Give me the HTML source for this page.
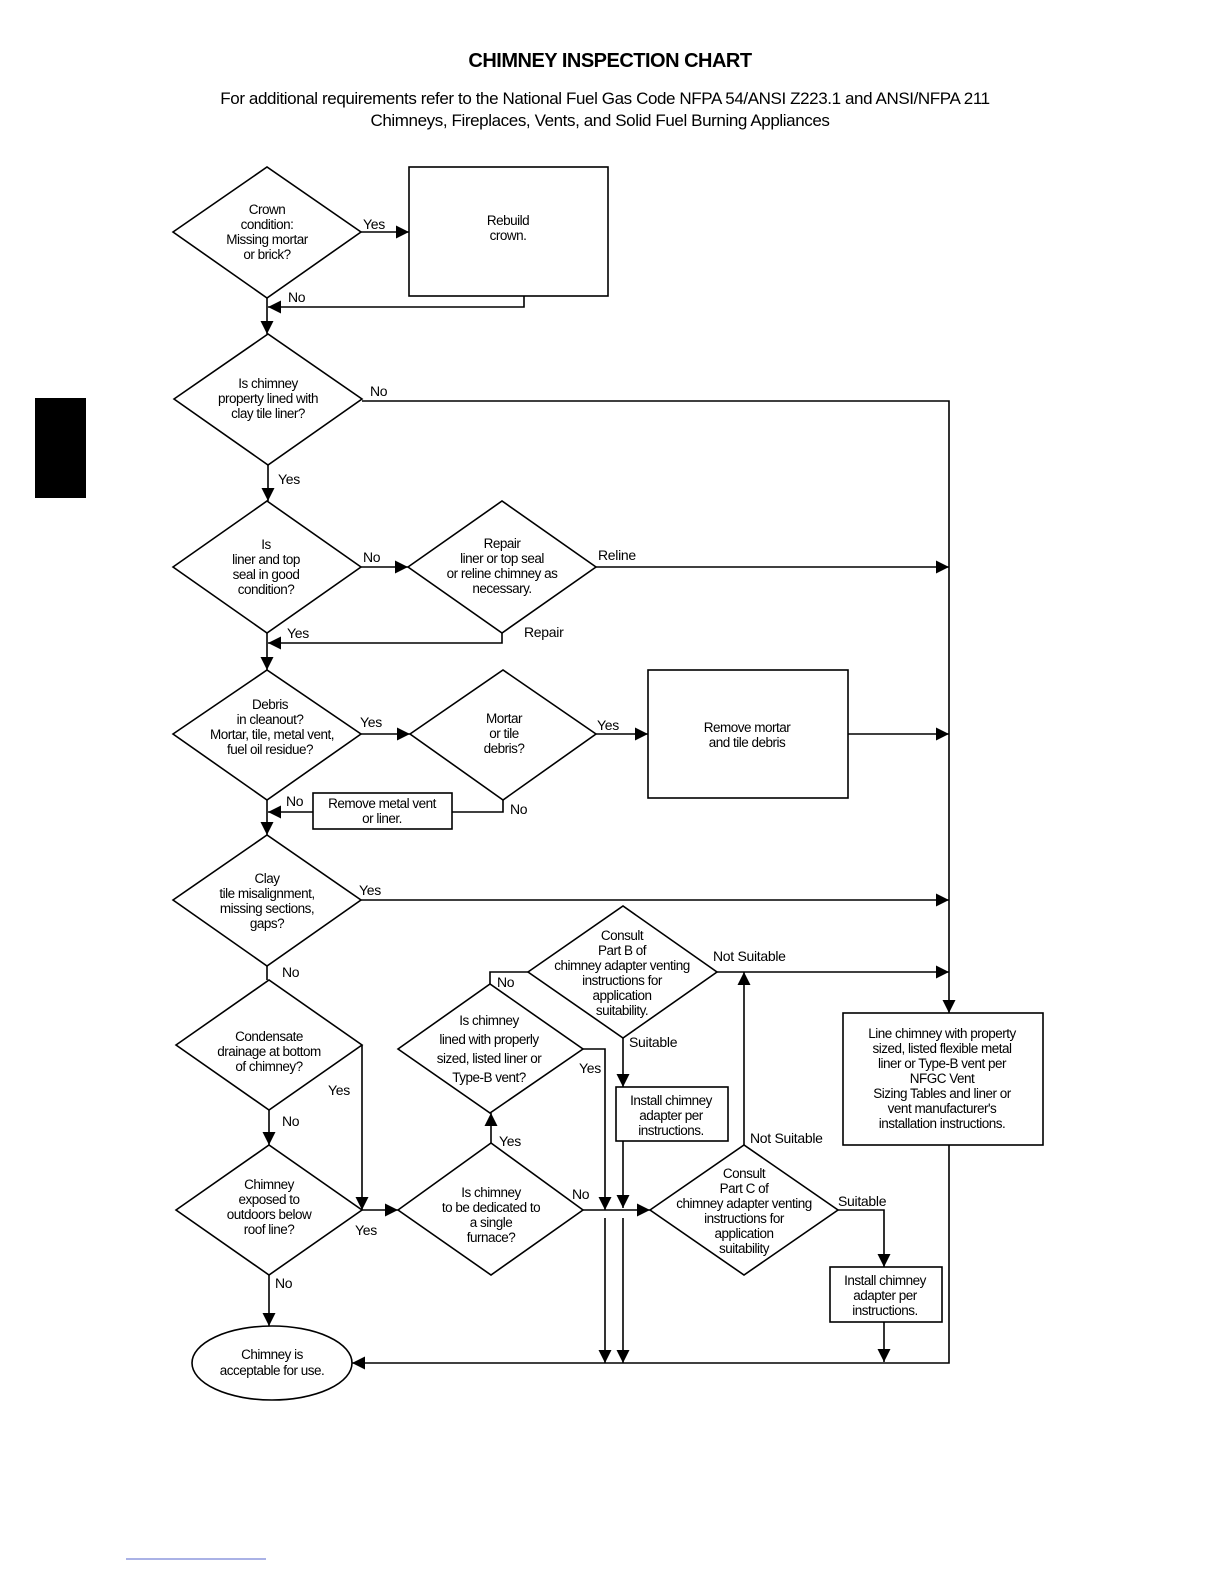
<!DOCTYPE html>
<html><head><meta charset="utf-8"><style>
body{margin:0;background:#fff}
svg{display:block}
text{font-family:"Liberation Sans",Arial,sans-serif;fill:#000}
.n{font-size:13.5px;text-anchor:middle;letter-spacing:-0.5px}
.l{font-size:14px;letter-spacing:-0.3px}
</style></head><body>
<svg width="1224" height="1584" viewBox="0 0 1224 1584" xmlns="http://www.w3.org/2000/svg">
<defs><marker id="a" viewBox="0 0 10 10" refX="10" refY="5" markerWidth="9" markerHeight="9" markerUnits="userSpaceOnUse" orient="auto"><path d="M0,0L10,5L0,10z" fill="#000"/></marker>
<marker id="b" viewBox="0 0 10 10" refX="10" refY="5" markerWidth="13" markerHeight="13" markerUnits="userSpaceOnUse" orient="auto"><path d="M0,0L10,5L0,10z" fill="#000"/></marker></defs>
<text x="610" y="67" font-size="20" font-weight="bold" text-anchor="middle" letter-spacing="-0.5">CHIMNEY INSPECTION CHART</text>
<text x="605" y="104" font-size="17" text-anchor="middle" letter-spacing="-0.4">For additional requirements refer to the National Fuel Gas Code NFPA 54/ANSI Z223.1 and ANSI/NFPA 211</text>
<text x="600" y="126" font-size="17" text-anchor="middle" letter-spacing="-0.4">Chimneys, Fireplaces, Vents, and Solid Fuel Burning Appliances</text>
<rect x="35" y="398" width="51" height="100" fill="#000"/>
<line x1="126" y1="1559" x2="266" y2="1559" stroke="#5566cc" stroke-width="1"/>
<g fill="none" stroke="#000" stroke-width="1.6">
<polygon points="173,232 267,167 361,232 267,298"/>
<polygon points="174,399 268,334 362,399 268,465"/>
<polygon points="173,567 267,501 361,567 267,633"/>
<polygon points="408,567 502,501 596,567 502,633"/>
<polygon points="173,734 267,670 361,734 267,800"/>
<polygon points="410,734 503,670 596,734 503,800"/>
<polygon points="173,900 267,835 361,900 267,966"/>
<polygon points="528,972 623,906 717,972 623,1038"/>
<polygon points="398,1049 490,984 583,1049 490,1113"/>
<polygon points="176,1045 269,980 362,1045 269,1110"/>
<polygon points="176,1210 269,1145 362,1210 269,1275"/>
<polygon points="398,1210 491,1143 583,1210 491,1275"/>
<polygon points="650,1210 744,1145 838,1210 744,1275"/>
<rect x="409" y="167" width="199" height="129"/>
<rect x="648" y="670" width="200" height="128"/>
<rect x="313" y="793" width="139" height="36"/>
<rect x="843" y="1013" width="200" height="132"/>
<rect x="616" y="1087" width="112" height="54"/>
<rect x="830" y="1267" width="112" height="55"/>
<ellipse cx="272" cy="1363" rx="80" ry="37"/>
</g>
<g fill="none" stroke="#000" stroke-width="1.6">
<path d="M361,232H409" marker-end="url(#b)"/>
<path d="M524,296V307H268" marker-end="url(#b)"/>
<path d="M267,298V334" marker-end="url(#b)"/>
<path d="M362,401H949V1013" marker-end="url(#b)"/>
<path d="M268,465V501" marker-end="url(#b)"/>
<path d="M361,567H408" marker-end="url(#b)"/>
<path d="M596,567H949" marker-end="url(#b)"/>
<path d="M502,633V643H268" marker-end="url(#b)"/>
<path d="M267,633V670" marker-end="url(#b)"/>
<path d="M361,734H410" marker-end="url(#b)"/>
<path d="M596,734H648" marker-end="url(#b)"/>
<path d="M848,734H949" marker-end="url(#b)"/>
<path d="M503,800V812H452"/>
<path d="M313,812H268" marker-end="url(#b)"/>
<path d="M267,800V835" marker-end="url(#b)"/>
<path d="M361,900H949" marker-end="url(#b)"/>
<path d="M267,966V980"/>
<path d="M362,1045V1210" marker-end="url(#b)"/>
<path d="M362,1210H398" marker-end="url(#b)"/>
<path d="M269,1110V1145" marker-end="url(#b)"/>
<path d="M269,1275V1326" marker-end="url(#b)"/>
<path d="M491,1143V1113" marker-end="url(#b)"/>
<path d="M490,984V972H528"/>
<path d="M583,1049H605V1210" marker-end="url(#b)"/>
<path d="M583,1210H650" marker-end="url(#b)"/>
<path d="M605,1218V1363" marker-end="url(#b)"/>
<path d="M623,1218V1363" marker-end="url(#b)"/>
<path d="M623,1038V1087" marker-end="url(#b)"/>
<path d="M623,1141V1208" marker-end="url(#b)"/>
<path d="M744,1145V972" marker-end="url(#b)"/>
<path d="M717,972H949" marker-end="url(#b)"/>
<path d="M838,1210H884V1267" marker-end="url(#b)"/>
<path d="M884,1322V1362" marker-end="url(#b)"/>
<path d="M949,1145V1363H352" marker-end="url(#b)"/>
</g>
<g class="n">
<text x="267" y="214">Crown</text><text x="267" y="229">condition:</text><text x="267" y="244">Missing mortar</text><text x="267" y="259">or brick?</text>
<text x="508" y="225">Rebuild</text><text x="508" y="240">crown.</text>
<text x="268" y="388">Is chimney</text><text x="268" y="403">property lined with</text><text x="268" y="418">clay tile liner?</text>
<text x="266" y="549">Is</text><text x="266" y="564">liner and top</text><text x="266" y="579">seal in good</text><text x="266" y="594">condition?</text>
<text x="502" y="548">Repair</text><text x="502" y="563">liner or top seal</text><text x="502" y="578">or reline chimney as</text><text x="502" y="593">necessary.</text>
<text x="270" y="709">Debris</text><text x="270" y="724">in cleanout?</text><text x="272" y="739">Mortar, tile, metal vent,</text><text x="270" y="754">fuel oil residue?</text>
<text x="504" y="723">Mortar</text><text x="504" y="738">or tile</text><text x="504" y="753">debris?</text>
<text x="747" y="732">Remove mortar</text><text x="747" y="747">and tile debris</text>
<text x="382" y="808">Remove metal vent</text><text x="382" y="823">or liner.</text>
<text x="267" y="883">Clay</text><text x="267" y="898">tile misalignment,</text><text x="267" y="913">missing sections,</text><text x="267" y="928">gaps?</text>
<text x="622" y="940">Consult</text><text x="622" y="955">Part B of</text><text x="622" y="970">chimney adapter venting</text><text x="622" y="985">instructions for</text><text x="622" y="1000">application</text><text x="622" y="1015">suitability.</text>
<text x="489" y="1025">Is chimney</text><text x="489" y="1044">lined with properly</text><text x="489" y="1063">sized, listed liner or</text><text x="489" y="1082">Type-B vent?</text>
<text x="269" y="1041">Condensate</text><text x="269" y="1056">drainage at bottom</text><text x="269" y="1071">of chimney?</text>
<text x="942" y="1038">Line chimney with property</text><text x="942" y="1053">sized, listed flexible metal</text><text x="942" y="1068">liner or Type-B vent per</text><text x="942" y="1083">NFGC Vent</text><text x="942" y="1098">Sizing Tables and liner or</text><text x="942" y="1113">vent manufacturer's</text><text x="942" y="1128">installation instructions.</text>
<text x="671" y="1105">Install chimney</text><text x="671" y="1120">adapter per</text><text x="671" y="1135">instructions.</text>
<text x="269" y="1189">Chimney</text><text x="269" y="1204">exposed to</text><text x="269" y="1219">outdoors below</text><text x="269" y="1234">roof line?</text>
<text x="491" y="1197">Is chimney</text><text x="491" y="1212">to be dedicated to</text><text x="491" y="1227">a single</text><text x="491" y="1242">furnace?</text>
<text x="744" y="1178">Consult</text><text x="744" y="1193">Part C of</text><text x="744" y="1208">chimney adapter venting</text><text x="744" y="1223">instructions for</text><text x="744" y="1238">application</text><text x="744" y="1253">suitability</text>
<text x="885" y="1285">Install chimney</text><text x="885" y="1300">adapter per</text><text x="885" y="1315">instructions.</text>
<text x="272" y="1359">Chimney is</text><text x="272" y="1375">acceptable for use.</text>
</g>
<g class="l">
<text x="363" y="229">Yes</text><text x="288" y="302">No</text>
<text x="370" y="396">No</text><text x="278" y="484">Yes</text>
<text x="363" y="562">No</text><text x="598" y="560">Reline</text>
<text x="287" y="638">Yes</text><text x="524" y="637">Repair</text>
<text x="360" y="727">Yes</text><text x="597" y="730">Yes</text>
<text x="286" y="806">No</text><text x="510" y="814">No</text>
<text x="359" y="895">Yes</text><text x="282" y="977">No</text>
<text x="713" y="961">Not Suitable</text><text x="497" y="987">No</text>
<text x="629" y="1047">Suitable</text><text x="579" y="1073">Yes</text>
<text x="328" y="1095">Yes</text><text x="282" y="1126">No</text>
<text x="499" y="1146">Yes</text><text x="750" y="1143">Not Suitable</text>
<text x="572" y="1199">No</text><text x="838" y="1206">Suitable</text>
<text x="355" y="1235">Yes</text><text x="275" y="1288">No</text>
</g>
</svg>
</body></html>
